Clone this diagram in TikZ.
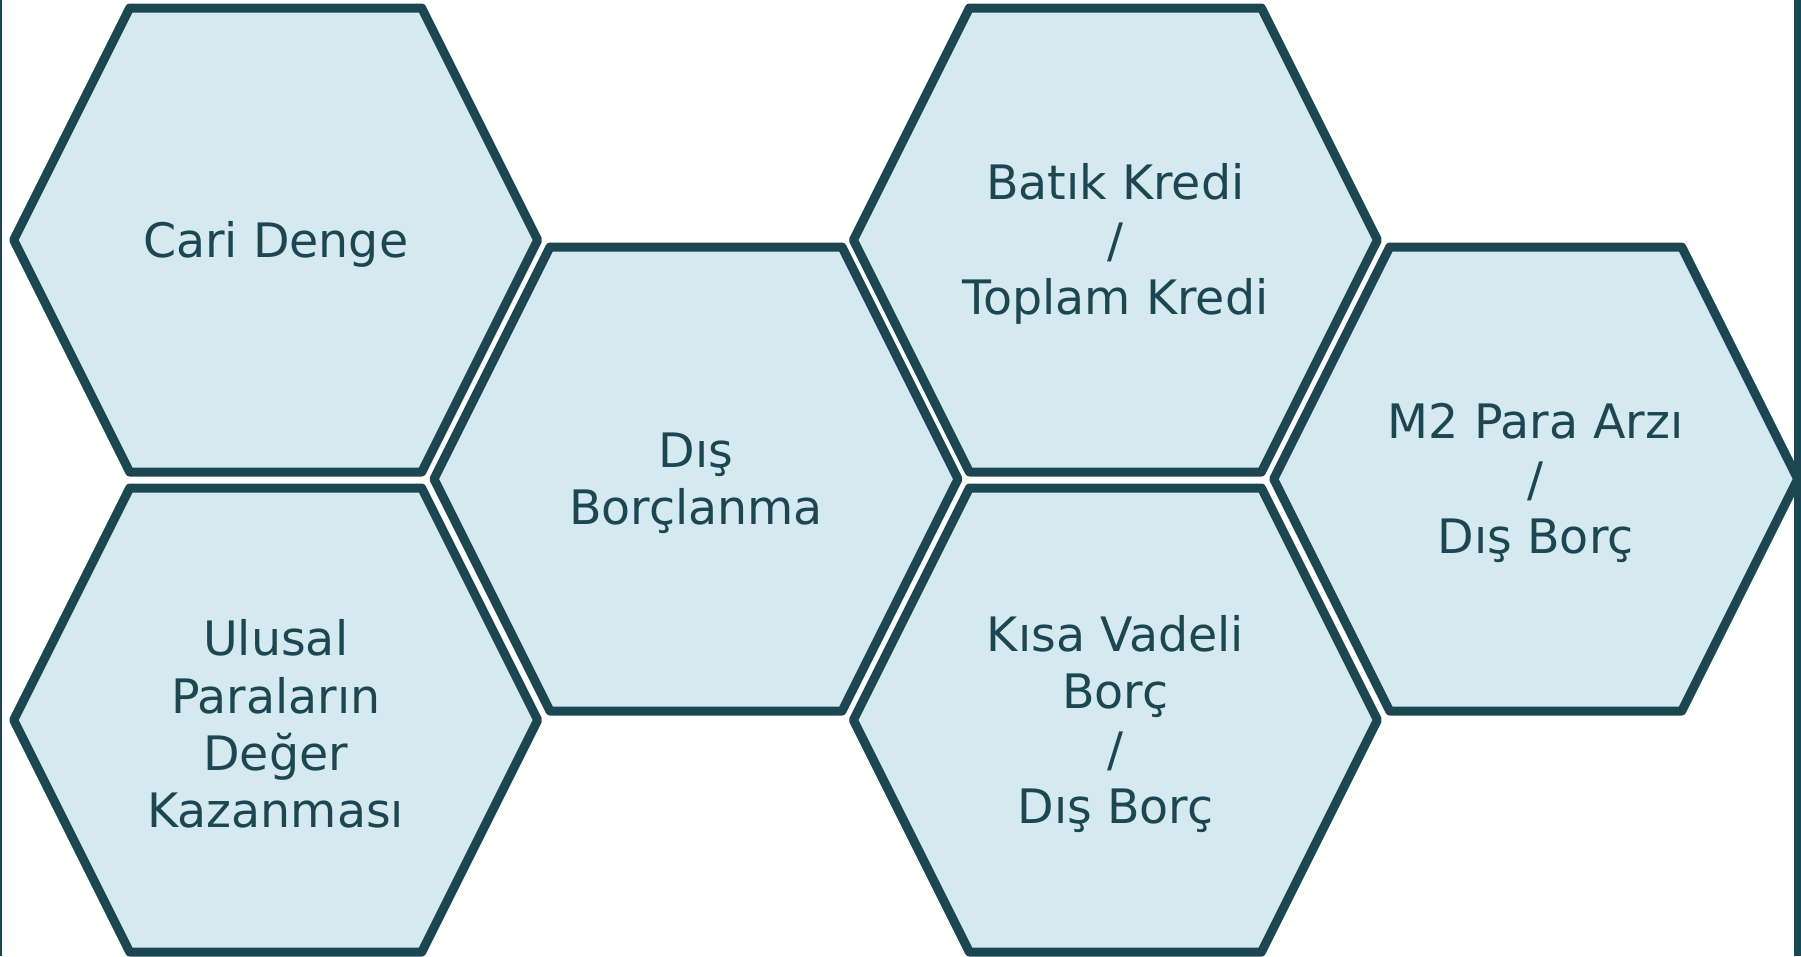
\documentclass[tikz,border=0pt]{standalone}
\usepackage{fontspec}
\setmainfont{DejaVu Sans}
\usetikzlibrary{backgrounds}
\definecolor{tealdark}{HTML}{1C4752}
\definecolor{icefill}{HTML}{D4E9F0}
\tikzset{
  hexline/.style={draw=tealdark,fill=icefill,line width=0.09cm,line join=round},
  hextext/.style={align=center,text=tealdark,yshift=-0.04cm,font=\fontsize{13.5}{16.3}\selectfont}
}

\begin{document}
\begin{tikzpicture}[x=0.01cm,y=-0.01cm]
    \useasboundingbox (0,0) rectangle (1801,956);
    \node[hextext] (cari) at (275.7,240) {Cari Denge};
    \node[hextext] (ulusal) at (275.7,720) {Ulusal\\Paraların\\Değer\\Kazanması};
    \node[hextext] (dis) at (696,479) {Dış\\Borçlanma};
    \node[hextext] (batik) at (1115.4,240) {Batık Kredi\\/\\Toplam Kredi};
    \node[hextext] (kisa) at (1115.4,720) {Kısa Vadeli\\Borç\\/\\Dış Borç};
    \node[hextext] (mparasi) at (1535.7,479) {M2 Para Arzı\\/\\Dış Borç};
    % hexagons behind the texts (the texts sit 4 units low)
    \begin{scope}[on background layer]
      \foreach \h in {cari,ulusal,dis,batik,kisa,mparasi}
        \draw[hexline] (\h.center) ++(-146,-236) -- ++(292,0) -- ++(116,232)
          -- ++(-116,232) -- ++(-292,0) -- ++(-116,-232) -- cycle;
    \end{scope}
    \draw[tealdark,line width=0.02cm] (1,0) -- (1,956);
    \draw[tealdark,line width=0.07cm] (1797.5,0) -- (1797.5,956);
  \end{tikzpicture}
\end{document}
